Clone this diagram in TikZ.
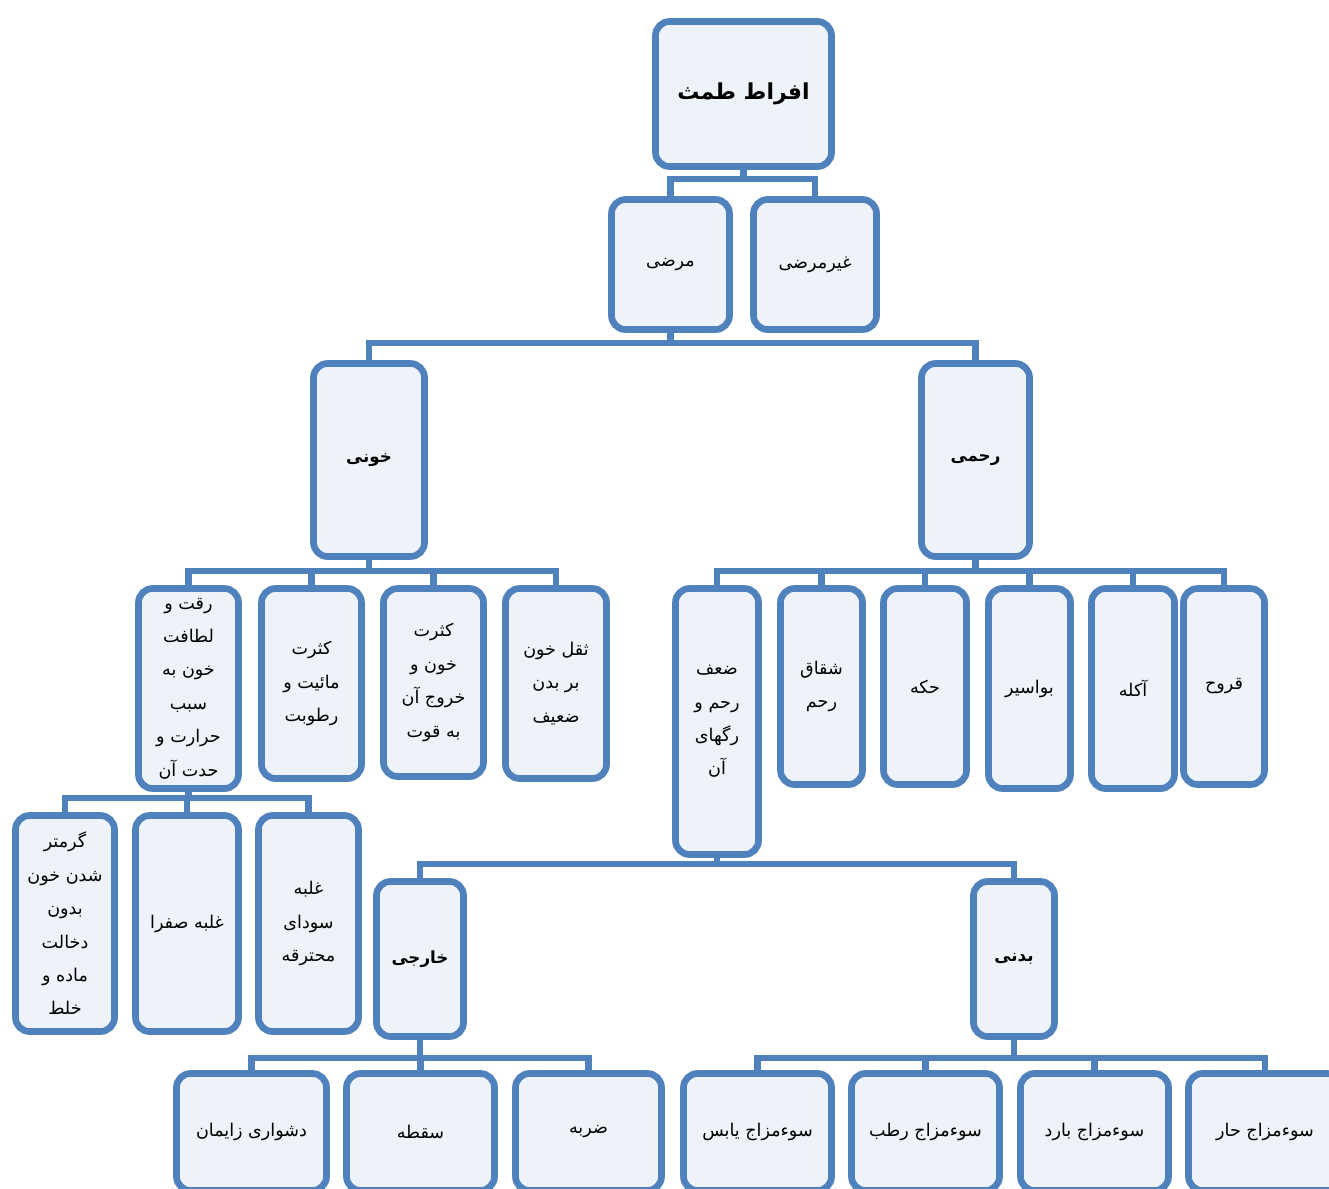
\documentclass[tikz,border=0pt]{standalone}
\usepackage{fontspec}
\newfontfamily\arabicfont[Script=Arabic]{DejaVu Sans}
\TeXXeTstate=1
\usetikzlibrary{calc}
\definecolor{boxblue}{RGB}{79,129,189}
\definecolor{boxfill}{RGB}{238,242,249}
\newcommand\fa[1]{\beginR #1\endR}
\newcommand\mybox[7][]{\node[box,#1, minimum width={(#5-#3-7)*0.02cm}, minimum height={(#6-#4-7)*0.02cm}] (#2) at ({(#3+#5)/2},{(#4+#6)/2}) {#7};}
\begin{document}
\begin{tikzpicture}[x=0.02cm,y=-0.02cm,
  box/.style={draw=boxblue, fill=boxfill, line width=3.8pt, rounded corners=8pt, align=center, inner sep=1pt, font=\arabicfont\fontsize{10}{19}\selectfont},
  boldtxt/.style={font=\arabicfont\bfseries\fontsize{9.5}{19}\selectfont},
  roottxt/.style={font=\arabicfont\bfseries\fontsize{12.5}{20}\selectfont},
  conn/.style={draw=boxblue, line width=3.8pt}]
\useasboundingbox (0,0) rectangle (1329,1188);
% level 1
\mybox[roottxt]{root}{652}{18}{835}{170}{\fa{افراط طمث}}
% level 2
\mybox{m}{608}{196}{733}{333}{\fa{مرضی}}
\mybox{gm}{750}{196}{880}{333}{\fa{غیرمرضی}}
% level 3
\mybox[boldtxt]{khuni}{310}{360}{428}{560}{\fa{خونی}}
\mybox[boldtxt]{rahemi}{918}{360}{1033}{560}{\fa{رحمی}}
% level 4 left
\mybox{k1}{135}{585}{242}{792}{\fa{رقت و}\\\fa{لطافت}\\\fa{خون به}\\\fa{سبب}\\\fa{حرارت و}\\\fa{حدت آن}}
\mybox{k2}{258}{585}{365}{782}{\fa{کثرت}\\\fa{مائیت و}\\\fa{رطوبت}}
\mybox{k3}{380}{585}{487}{780}{\fa{کثرت}\\\fa{خون و}\\\fa{خروج آن}\\\fa{به قوت}}
\mybox{k4}{502}{585}{610}{782}{\fa{ثقل خون}\\\fa{بر بدن}\\\fa{ضعیف}}
% level 4 right
\mybox{r1}{672}{585}{762}{858}{\fa{ضعف}\\\fa{رحم و}\\\fa{رگهای}\\\fa{آن}}
\mybox{r2}{777}{585}{866}{788}{\fa{شقاق}\\\fa{رحم}}
\mybox{r3}{880}{585}{970}{788}{\fa{حکه}}
\mybox{r4}{985}{585}{1074}{792}{\fa{بواسیر}}
\mybox{r5}{1088}{585}{1178}{792}{\fa{آکله}}
\mybox{r6}{1180}{585}{1268}{788}{\fa{قروح}}
% level 5 left
\mybox{g1}{12}{812}{118}{1035}{\fa{گرمتر}\\\fa{شدن خون}\\\fa{بدون}\\\fa{دخالت}\\\fa{ماده و}\\\fa{خلط}}
\mybox{g2}{132}{812}{242}{1035}{\fa{غلبه صفرا}}
\mybox{g3}{255}{812}{362}{1035}{\fa{غلبه}\\\fa{سودای}\\\fa{محترقه}}
% level 5 right
\mybox[boldtxt]{kh}{373}{878}{467}{1040}{\fa{خارجی}}
\mybox[boldtxt]{bd}{970}{878}{1058}{1040}{\fa{بدنی}}
% level 6
\mybox{e1}{173}{1070}{330}{1194}{\fa{دشواری زایمان}}
\mybox{e2}{343}{1070}{498}{1194}{\fa{سقطه}}
\mybox{e3}{512}{1070}{665}{1194}{\fa{ضربه}}
\mybox{b1}{680}{1070}{835}{1194}{\fa{سوءمزاج یابس}}
\mybox{b2}{848}{1070}{1003}{1194}{\fa{سوءمزاج رطب}}
\mybox{b3}{1017}{1070}{1172}{1194}{\fa{سوءمزاج بارد}}
\mybox{b4}{1185}{1070}{1345}{1194}{\fa{سوءمزاج حار}}
% connectors
\coordinate (y0) at (0,179);
\coordinate (y1) at (0,343);
\coordinate (y2) at (0,571);
\coordinate (y3) at (0,798);
\coordinate (y4) at (0,864);
\coordinate (y5) at (0,1058);
\foreach \c in {m,gm} \draw[conn] (root.south) |- (\c.north |- y0) -- (\c.north);
\foreach \c in {khuni,rahemi} \draw[conn] (m.south) |- (\c.north |- y1) -- (\c.north);
\foreach \c in {k1,k2,k3,k4} \draw[conn] (khuni.south) |- (\c.north |- y2) -- (\c.north);
\foreach \c in {r1,r2,r3,r4,r5,r6} \draw[conn] (rahemi.south) |- (\c.north |- y2) -- (\c.north);
\foreach \c in {g1,g2,g3} \draw[conn] (k1.south) |- (\c.north |- y3) -- (\c.north);
\foreach \c in {kh,bd} \draw[conn] (r1.south) |- (\c.north |- y4) -- (\c.north);
\foreach \c in {e1,e2,e3} \draw[conn] (kh.south) |- (\c.north |- y5) -- (\c.north);
\foreach \c in {b1,b2,b3,b4} \draw[conn] (bd.south) |- (\c.north |- y5) -- (\c.north);
\end{tikzpicture}
\end{document}
